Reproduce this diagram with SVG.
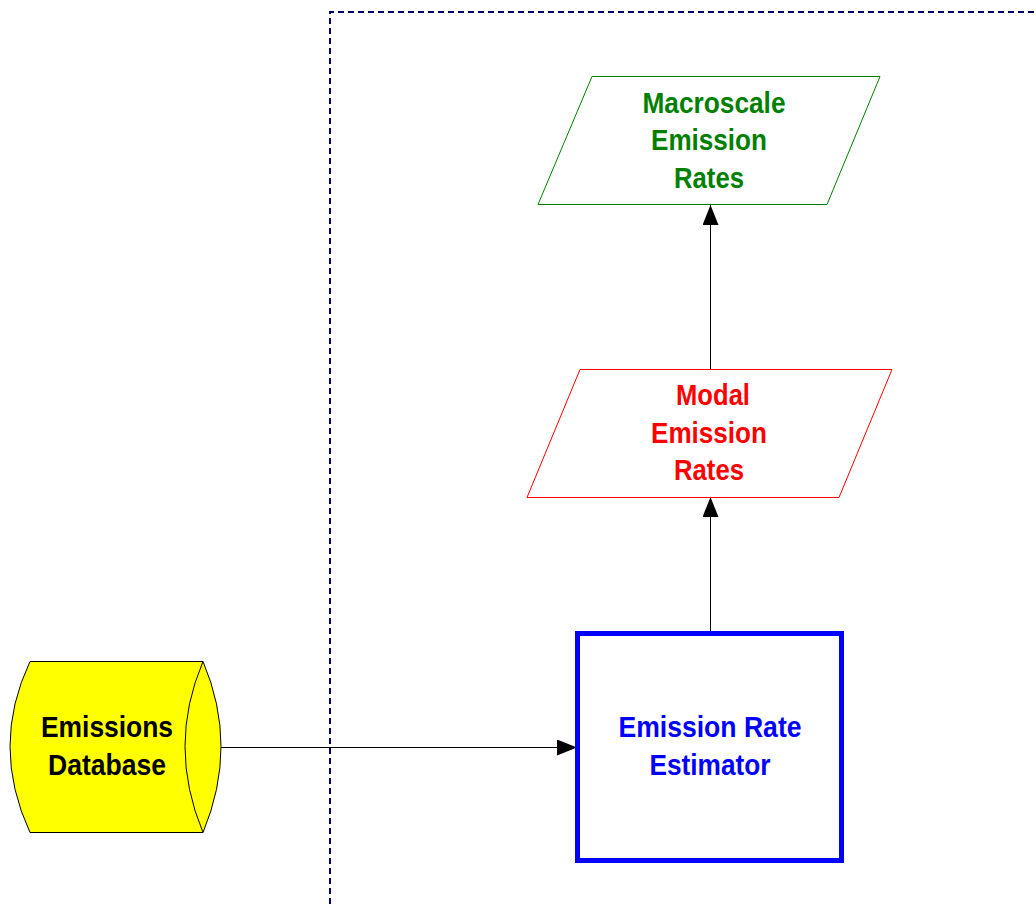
<svg xmlns="http://www.w3.org/2000/svg" width="1036" height="904" viewBox="0 0 1036 904">
<defs>
<marker id="arr" markerWidth="20" markerHeight="16" refX="20" refY="8" orient="auto" markerUnits="userSpaceOnUse">
<path d="M0,0 L20,8 L0,16 Z" fill="#000"/>
</marker>
<style>
.t{font-family:"Liberation Sans",Arial,sans-serif;font-weight:bold;font-size:29px;text-anchor:middle}
.c{stroke:#000;stroke-width:1;fill:none}
</style>
</defs>
<rect width="1036" height="904" fill="#fff"/>
<path d="M330,904 V12 H1036" fill="none" stroke="#000066" stroke-width="2" stroke-dasharray="6,4"/>
<g id="connectors">
<line class="c" x1="221" y1="747.5" x2="577" y2="747.5" marker-end="url(#arr)"/>
<line class="c" x1="710.5" y1="631" x2="710.5" y2="497" marker-end="url(#arr)"/>
<line class="c" x1="710.5" y1="369" x2="710.5" y2="205" marker-end="url(#arr)"/>
</g>
<g id="emissions-database">
<path d="M30,661.5 H203 Q239,746 203,832.5 H30 Q-10,746 30,661.5 Z" fill="#ffff00" stroke="#000" stroke-width="1"/>
<path d="M203,661.5 Q167,746 203,832.5" fill="none" stroke="#000" stroke-width="1"/>
<text class="t" x="107" y="737" fill="#000" textLength="132" lengthAdjust="spacingAndGlyphs">Emissions</text>
<text class="t" x="107" y="775" fill="#000" textLength="118" lengthAdjust="spacingAndGlyphs">Database</text>
</g>
<g id="emission-rate-estimator">
<rect x="577.5" y="633.5" width="264" height="227" fill="#fff" stroke="#0000ff" stroke-width="5"/>
<text class="t" x="710" y="737" fill="#0000ff" textLength="183" lengthAdjust="spacingAndGlyphs">Emission Rate</text>
<text class="t" x="710" y="775" fill="#0000ff" textLength="121" lengthAdjust="spacingAndGlyphs">Estimator</text>
</g>
<g id="modal-emission-rates">
<polygon points="580,369.5 892,369.5 839,497.5 527,497.5" fill="#fff" stroke="#ff0000" stroke-width="1"/>
<text class="t" x="713" y="405" fill="#ff0000" textLength="74" lengthAdjust="spacingAndGlyphs">Modal</text>
<text class="t" x="709" y="443" fill="#ff0000" textLength="116" lengthAdjust="spacingAndGlyphs">Emission</text>
<text class="t" x="709" y="480" fill="#ff0000" textLength="70" lengthAdjust="spacingAndGlyphs">Rates</text>
</g>
<g id="macroscale-emission-rates">
<polygon points="592,76.5 880,76.5 827,204.5 538,204.5" fill="#fff" stroke="#008000" stroke-width="1"/>
<text class="t" x="714" y="113" fill="#008000" textLength="143" lengthAdjust="spacingAndGlyphs">Macroscale</text>
<text class="t" x="709" y="150" fill="#008000" textLength="116" lengthAdjust="spacingAndGlyphs">Emission</text>
<text class="t" x="709" y="188" fill="#008000" textLength="70" lengthAdjust="spacingAndGlyphs">Rates</text>
</g>
</svg>
